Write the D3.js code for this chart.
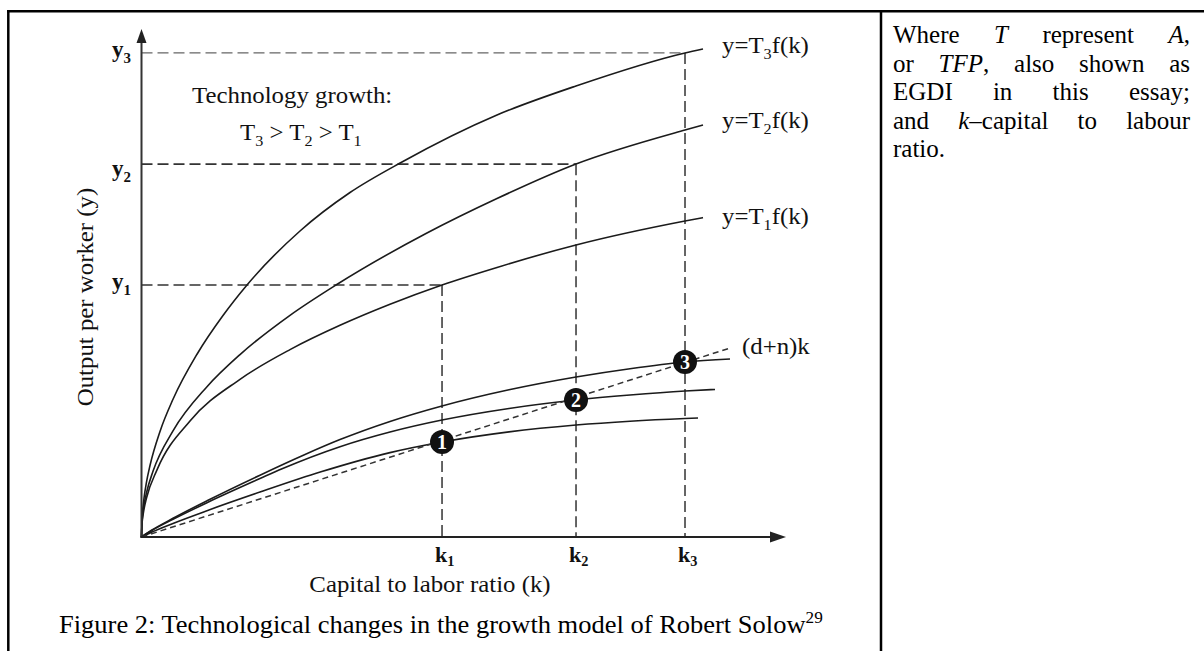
<!DOCTYPE html>
<html><head><meta charset="utf-8">
<script src="https://cdn.jsdelivr.net/npm/d3@7"></script>
<style>
html,body{margin:0;padding:0;background:#fff;}
svg{display:block;}
</style></head>
<body><svg id="c" width="1204" height="651"></svg>
<script>
// ---------------- data ----------------
const kLevels = [46.63, 67.42, 84.33];       // k1, k2, k3
const kSubs = ["1", "2", "3"];
const yLevels = [49.6, 73.4, 95.3];          // y1, y2, y3
const ySubs = ["1", "2", "3"];

// production curves y = T f(k)
const curveT3 = [[0,0],[0.078,3.41],[0.155,4.82],[0.388,7.64],[0.776,10.81],[1.319,14.07],[2.870,20.77],[4.888,27.11],[8.611,35.98],[12.645,43.60],[16.369,49.61],[24.593,60.24],[32.351,67.81],[40.419,73.82],[55.159,83.07],[67.417,88.78],[84.329,95.28],[87.122,96.06]];
const curveT2 = [[0,0],[0.078,2.91],[0.155,4.06],[0.388,6.28],[0.776,8.72],[1.784,12.93],[4.888,20.89],[10.163,29.59],[15.283,35.91],[23.041,43.64],[30.178,49.61],[44.143,59.74],[55.159,66.63],[67.417,73.43],[84.329,80.12],[87.122,81.10]];
const curveT1 = [[0,0],[0.078,2.54],[0.155,3.54],[0.388,5.49],[0.776,7.68],[2.405,13.21],[7.525,22.83],[15.283,31.04],[23.041,36.89],[30.799,41.67],[38.557,45.81],[46.625,49.61],[55.159,53.07],[67.417,57.48],[84.329,62.20],[87.122,62.87]];

// saving curves s T f(k)
const saveS3 = [[0,0],[1.552,1.32],[4.888,3.68],[10.163,7.13],[18.386,12.17],[25.198,16.14],[30.799,19.17],[38.557,22.74],[46.625,25.79],[57.021,28.98],[67.417,31.50],[75.795,33.13],[84.329,34.45],[91.311,35.04]];
const saveS2 = [[0,0],[1.552,1.24],[4.888,3.48],[10.163,6.75],[18.386,11.50],[21.815,13.43],[30.799,17.78],[38.557,20.67],[46.625,23.03],[57.021,25.31],[67.417,26.97],[75.795,27.95],[84.329,28.74],[88.984,29.04]];
const saveS1 = [[0,0],[1.552,0.95],[4.888,2.68],[10.163,5.18],[18.386,8.84],[27.851,12.83],[38.557,16.61],[46.625,18.70],[57.021,20.69],[67.417,22.05],[75.795,22.80],[84.329,23.33],[86.346,23.43]];

const breakEven = [[0,0],[91.31,37.2]];      // (d+n)k
const steadyStates = [[46.63,18.7],[67.42,26.97],[84.33,34.45]];
const steadyLabels = ["1","2","3"];

const curveLabelSubs = ["3","2","1"];

// ---------------- setup ----------------
const serif = "'Liberation Serif','Times New Roman',Times,serif";
const svg = d3.select("#c");
const x = d3.scaleLinear().domain([0,100]).range([141.5, 786]);
const y = d3.scaleLinear().domain([0,100]).range([537, 29]);
const ink = "#1b1b1b";

function label(g, px, py, parts, o = {}) {
  const size = o.size || 23, sx = o.sx || 1.08;
  const t = g.append("text")
    .attr("transform", `translate(${px},${py})` + (o.rotate ? ` rotate(${o.rotate})` : "") + ` scale(${sx},1)`)
    .attr("font-family", serif).attr("font-size", size)
    .attr("font-weight", o.weight || "normal")
    .attr("text-anchor", o.anchor || "start")
    .attr("fill", o.fill || "#111");
  let shift = 0;
  parts.forEach(p => {
    if (typeof p === "string") p = {t: p};
    const ts = t.append("tspan").text(p.t);
    const target = p.sub ? size * (o.subDrop || 0.24) : p.sup ? -size * 0.4 : 0;
    if (target !== shift) { ts.attr("dy", target - shift); shift = target; }
    if (p.sub || p.sup) ts.attr("font-size", size * 0.65);
    if (p.italic) ts.attr("font-style", "italic");
  });
  return t;
}

// ---------------- table borders ----------------
svg.append("line").attr("x1", 7).attr("x2", 1204).attr("y1", 11.3).attr("y2", 11.3)
  .attr("stroke", "#000").attr("stroke-width", 2.5);
svg.append("line").attr("x1", 8.3).attr("x2", 8.3).attr("y1", 10).attr("y2", 651)
  .attr("stroke", "#000").attr("stroke-width", 2.5);
svg.append("line").attr("x1", 881).attr("x2", 881).attr("y1", 10).attr("y2", 651)
  .attr("stroke", "#000").attr("stroke-width", 2.5);

const chart = svg.append("g");

// ---------------- dashed guides ----------------
yLevels.forEach((yv, i) => {
  const col = i === 2 ? "#666" : "#333";
  chart.append("line").attr("x1", x(0)).attr("x2", x(kLevels[i])).attr("y1", y(yv)).attr("y2", y(yv))
    .attr("stroke", col).attr("stroke-width", i === 2 ? 1.3 : 1.6).attr("stroke-dasharray", "11,5");
  chart.append("line").attr("x1", x(kLevels[i])).attr("x2", x(kLevels[i])).attr("y1", y(yv)).attr("y2", y(0))
    .attr("stroke", "#333").attr("stroke-width", 1.5).attr("stroke-dasharray", "11,5");
});

// ---------------- curves ----------------
const line = d3.line().x(d => x(d[0])).y(d => y(d[1])).curve(d3.curveMonotoneX);
[curveT3, curveT2, curveT1, saveS3, saveS2, saveS1].forEach(c => {
  chart.append("path").attr("d", line(c)).attr("fill", "none").attr("stroke", ink).attr("stroke-width", 1.6);
});
chart.append("path").attr("d", d3.line().x(d => x(d[0])).y(d => y(d[1]))(breakEven))
  .attr("fill", "none").attr("stroke", "#333").attr("stroke-width", 1.5).attr("stroke-dasharray", "6,4");

// ---------------- axes ----------------
chart.append("line").attr("x1", x(0)).attr("x2", x(0)).attr("y1", y(0) + 1).attr("y2", y(100) + 10)
  .attr("stroke", "#333").attr("stroke-width", 2);
chart.append("line").attr("x1", x(0) - 1).attr("x2", x(100) - 10).attr("y1", y(0)).attr("y2", y(0))
  .attr("stroke", "#222").attr("stroke-width", 2);
chart.append("path")
  .attr("d", `M${x(0)},${y(100)} L${x(0) - 5},${y(100) + 14} L${x(0) + 5},${y(100) + 14} Z`).attr("fill", "#222");
chart.append("path")
  .attr("d", `M${x(100)},${y(0)} L${x(100) - 16},${y(0) - 5.5} L${x(100) - 16},${y(0) + 5.5} Z`).attr("fill", "#222");

// ---------------- steady states ----------------
steadyStates.forEach((d, i) => {
  chart.append("circle").attr("cx", x(d[0])).attr("cy", y(d[1])).attr("r", 12).attr("fill", "#111");
  chart.append("text").attr("x", x(d[0])).attr("y", y(d[1]) + 7)
    .attr("text-anchor", "middle").attr("font-family", serif).attr("font-weight", "bold")
    .attr("font-size", 20).attr("fill", "#fff").text(steadyLabels[i]);
});

// ---------------- labels ----------------
const yLabelOffsets = [4, 12, 4.5];
yLevels.forEach((yv, i) => {
  label(chart, 112, y(yv) + yLabelOffsets[i], [{t: "y"}, {t: ySubs[i], sub: true}], {weight: "bold", sx: 1.0});
});
kLevels.forEach((kv, i) => {
  label(chart, x(kv) - 7, 562, [{t: "k"}, {t: kSubs[i], sub: true}], {weight: "bold", sx: 1.0, size: 22, subDrop: 0.2});
});

label(chart, 192, 103, ["Technology growth:"]);
label(chart, 240, 140, ["T", {t: "3", sub: true}, " > T", {t: "2", sub: true}, " > T", {t: "1", sub: true}]);

const labelYs = [53, 128, 224];
curveLabelSubs.forEach((s, i) => {
  label(chart, 722, labelYs[i], ["y=T", {t: s, sub: true}, "f(k)"]);
});
label(chart, 742, 354, ["(d+n)k"]);

label(chart, 430, 592, ["Capital to labor ratio (k)"], {anchor: "middle"});
label(chart, 93, 297, ["Output per worker (y)"], {anchor: "middle", rotate: -90});

label(svg, 59, 633, ["Figure 2: Technological changes in the growth model of Robert Solow", {t: "29", sup: true}], {size: 25, sx: 1.06, fill: "#000"});

// ---------------- right column text (justified) ----------------
const noteLines = [
  [[["Where"]], [["T", true]], [["represent"]], [["A", true], [","]]],
  [[["or"]], [["TFP", true], [","]], [["also"]], [["shown"]], [["as"]]],
  [[["EGDI"]], [["in"]], [["this"]], [["essay;"]]],
  [[["and"]], [["k", true], ["\u2013capital"]], [["to"]], [["labour"]]],
  [[["ratio."]]]
];
const colLeft = 893, colRight = 1190, lineY0 = 43, lineGap = 28.5;
noteLines.forEach((words, li) => {
  const by = lineY0 + li * lineGap;
  const nodes = words.map(w => {
    const t = svg.append("text").attr("y", by).attr("font-family", serif).attr("font-size", 25).attr("fill", "#000");
    w.forEach(r => { const ts = t.append("tspan").text(r[0]); if (r[1]) ts.attr("font-style", "italic"); });
    return t;
  });
  const widths = nodes.map(n => n.node().getComputedTextLength());
  const total = d3.sum(widths);
  const justify = li < noteLines.length - 1 && nodes.length > 1;
  const gap = justify ? (colRight - colLeft - total) / (nodes.length - 1) : 6.25;
  let cx = colLeft;
  nodes.forEach((n, i) => { n.attr("x", cx); cx += widths[i] + gap; });
});
</script>
</body></html>
